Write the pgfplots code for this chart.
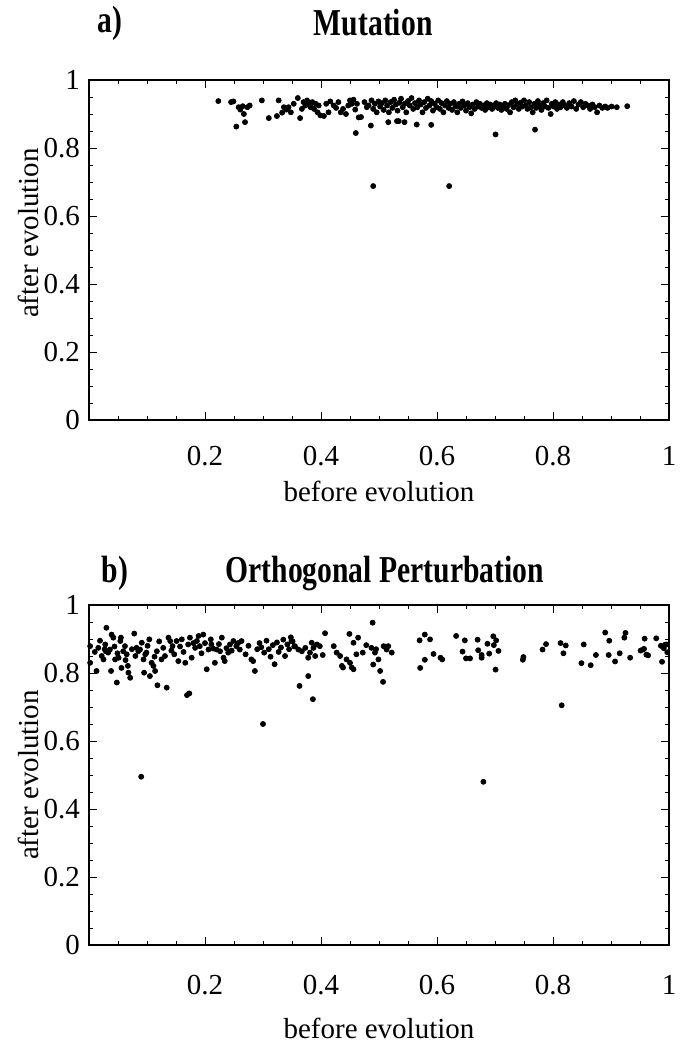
\documentclass[border=0pt]{standalone}
\usepackage{fontspec}
\setmainfont{Liberation Serif}
\usepackage{pgfplots}
\pgfplotsset{compat=1.18}

\pgfplotsset{
  panel/.style={
    scale only axis, width=290pt, height=170pt,
    xmin=0, xmax=1, ymin=0, ymax=1, clip=false,
    xtick={0,0.2,0.4,0.6,0.8,1}, xticklabels={,0.2,0.4,0.6,0.8,1},
    ytick={0,0.2,0.4,0.6,0.8,1}, yticklabels={0,0.2,0.4,0.6,0.8,1},
    minor tick num=3,
    tick align=inside, tickpos=both,
    major tick length=4pt, minor tick length=2pt,
    axis line style={line width=0.8pt},
    every tick/.style={black, line width=0.5pt},
    tick label style={font=\fontsize{14.5}{14.5}\selectfont},
    xticklabel style={yshift=-9.5pt},
    yticklabel style={xshift=-1pt},
    every axis x label/.style={at={(axis description cs:0.5,-0.21)}, anchor=center,
      font=\fontsize{14.5}{14.5}\selectfont},
    every axis y label/.style={at={(axis description cs:-0.105,0.5)}, rotate=90, anchor=center,
      font=\fontsize{14.5}{14.5}\selectfont},
    xlabel={before evolution}, ylabel={after evolution},
  },
  dots/.style={only marks, mark=*, mark size=1.25pt, black},
}
\tikzset{ttl/.style={font=\bfseries\fontsize{19}{19}\selectfont, xscale=0.78}}

\begin{document}
\begin{tikzpicture}
\path[use as bounding box] (0,0) rectangle (341.5pt,-525.5pt);

% a) Mutation
\begin{axis}[panel, at={(44.5pt,-40pt)}, anchor=north west,
  every axis y label/.append style={at={(axis description cs:-0.105,0.55)}}]
\addplot[dots] coordinates {
(0.223,0.938) (0.245,0.935) (0.249,0.937) (0.258,0.920) (0.261,0.913) (0.265,0.923)
(0.267,0.900) (0.269,0.876) (0.254,0.863) (0.273,0.920) (0.277,0.925) (0.298,0.940)
(0.310,0.888) (0.324,0.894) (0.327,0.940) (0.333,0.904) (0.336,0.920) (0.340,0.913)
(0.344,0.920) (0.348,0.905) (0.353,0.930) (0.360,0.947) (0.364,0.888) (0.367,0.915)
(0.370,0.935) (0.373,0.925) (0.376,0.940) (0.379,0.930) (0.382,0.920) (0.385,0.935)
(0.388,0.915) (0.391,0.930) (0.394,0.905) (0.396,0.925) (0.399,0.896) (0.405,0.894)
(0.409,0.930) (0.413,0.905) (0.416,0.937) (0.422,0.925) (0.426,0.918) (0.430,0.935)
(0.434,0.905) (0.438,0.915) (0.443,0.900) (0.447,0.925) (0.450,0.940) (0.453,0.930)
(0.456,0.942) (0.459,0.913) (0.462,0.930) (0.465,0.890) (0.460,0.844) (0.469,0.891)
(0.475,0.935) (0.479,0.920)
(0.482,0.925) (0.486,0.866) (0.487,0.940) (0.490,0.915) (0.493,0.930) (0.496,0.905)
(0.499,0.937) (0.502,0.922) (0.505,0.932) (0.508,0.912) (0.511,0.940) (0.514,0.925)
(0.516,0.876) (0.517,0.905) (0.520,0.935) (0.523,0.918) (0.526,0.942) (0.529,0.928)
(0.531,0.879) (0.534,0.879) (0.532,0.910) (0.535,0.933) (0.538,0.945) (0.541,0.920)
(0.544,0.876) (0.544,0.930) (0.547,0.905) (0.550,0.938) (0.553,0.925) (0.556,0.947)
(0.559,0.915) (0.562,0.932) (0.565,0.869) (0.566,0.920) (0.569,0.940) (0.572,0.928)
(0.575,0.905) (0.578,0.935) (0.581,0.918) (0.584,0.945) (0.587,0.925) (0.590,0.868)
(0.590,0.938) (0.593,0.910) (0.596,0.930) (0.599,0.920) (0.602,0.940) (0.605,0.915)
(0.608,0.932) (0.611,0.905) (0.614,0.925) (0.617,0.938) (0.620,0.918) (0.623,0.930)
(0.626,0.912) (0.629,0.935) (0.632,0.922) (0.635,0.905) (0.638,0.930) (0.641,0.918)
(0.644,0.937) (0.647,0.925) (0.650,0.910) (0.653,0.932) (0.656,0.920) (0.659,0.902)
(0.662,0.928) (0.665,0.915) (0.668,0.935) (0.671,0.922) (0.674,0.930) (0.677,0.918)
(0.680,0.925) (0.683,0.912) (0.686,0.932) (0.689,0.920) (0.692,0.928) (0.695,0.915)
(0.698,0.925) (0.701,0.840) (0.702,0.932) (0.705,0.918) (0.708,0.928) (0.711,0.912)
(0.714,0.922) (0.717,0.930) (0.720,0.915) (0.723,0.926) (0.726,0.905) (0.729,0.935)
(0.732,0.920) (0.735,0.940) (0.738,0.928) (0.741,0.915) (0.744,0.933) (0.747,0.922)
(0.750,0.940)
(0.753,0.925) (0.756,0.915) (0.759,0.935) (0.762,0.920) (0.765,0.905) (0.768,0.930)
(0.769,0.854) (0.771,0.918) (0.774,0.938) (0.777,0.925) (0.780,0.912) (0.783,0.932)
(0.786,0.922) (0.789,0.940) (0.792,0.918) (0.796,0.900) (0.798,0.930) (0.801,0.922)
(0.804,0.935) (0.807,0.915) (0.810,0.928) (0.813,0.920) (0.817,0.935) (0.820,0.925)
(0.824,0.918) (0.828,0.932) (0.832,0.922) (0.836,0.938) (0.840,0.915) (0.844,0.928)
(0.848,0.935) (0.852,0.920) (0.856,0.930) (0.860,0.925) (0.864,0.915) (0.868,0.928)
(0.872,0.920) (0.876,0.905) (0.880,0.925) (0.885,0.918) (0.890,0.922) (0.894,0.918)
(0.901,0.922) (0.910,0.920) (0.928,0.923)
(0.490,0.688) (0.621,0.688)
};
\node[ttl] at (axis description cs:0.036,1.168) {a)};
\node[ttl] at (axis description cs:0.49,1.168) {Mutation};
\end{axis}

% b) Orthogonal Perturbation
\begin{axis}[panel, at={(44.5pt,-302.5pt)}, anchor=north west,
  xticklabel style={yshift=-2pt},
  every axis x label/.append style={at={(axis description cs:0.5,-0.245)}}]
\addplot[dots] coordinates {
(0.002,0.879) (0.002,0.830) (0.013,0.806) (0.016,0.874) (0.022,0.850) (0.025,0.840)
(0.028,0.884) (0.030,0.933) (0.029,0.864) (0.033,0.860) (0.036,0.869) (0.039,0.913)
(0.042,0.904) (0.038,0.806) (0.048,0.772) (0.045,0.840) (0.051,0.845) (0.054,0.894)
(0.055,0.904) (0.056,0.815) (0.059,0.864) (0.062,0.879) (0.065,0.855) (0.068,0.801)
(0.067,0.821) (0.071,0.786) (0.078,0.916) (0.082,0.874) (0.085,0.864) (0.088,0.869)
(0.091,0.889) (0.094,0.840) (0.097,0.855) (0.095,0.801) (0.099,0.860) (0.104,0.899)
(0.105,0.791) (0.108,0.830) (0.111,0.821) (0.114,0.806) (0.117,0.864) (0.118,0.764)
(0.125,0.840) (0.128,0.874) (0.131,0.850) (0.134,0.757) (0.137,0.904) (0.140,0.894)
(0.144,0.879) (0.147,0.855) (0.151,0.894) (0.154,0.835) (0.160,0.899) (0.166,0.830)
(0.169,0.735) (0.173,0.740) (0.171,0.884) (0.174,0.904) (0.177,0.845) (0.183,0.874)
(0.186,0.894) (0.189,0.909) (0.191,0.879) (0.197,0.913) (0.203,0.811) (0.206,0.869)
(0.210,0.899) (0.211,0.884) (0.217,0.830) (0.220,0.869) (0.226,0.864) (0.229,0.904)
(0.232,0.845) (0.234,0.835) (0.240,0.860) (0.243,0.884) (0.249,0.894) (0.254,0.879)
(0.260,0.869) (0.263,0.894)
(0.010,0.862) (0.019,0.895) (0.027,0.870) (0.044,0.878) (0.049,0.858) (0.063,0.838)
(0.074,0.870) (0.080,0.850) (0.101,0.880) (0.113,0.848) (0.121,0.893) (0.142,0.866)
(0.157,0.878) (0.163,0.862) (0.180,0.888) (0.194,0.858) (0.200,0.888) (0.214,0.872)
(0.224,0.885) (0.237,0.873) (0.246,0.866) (0.257,0.888)
(0.270,0.855) (0.275,0.880) (0.280,0.840) (0.283,0.835) (0.286,0.806) (0.290,0.870)
(0.294,0.888) (0.297,0.876) (0.300,0.650) (0.302,0.860) (0.306,0.895) (0.310,0.870)
(0.313,0.848) (0.317,0.882) (0.320,0.826) (0.324,0.890) (0.327,0.862) (0.331,0.875)
(0.335,0.898) (0.338,0.850) (0.342,0.884) (0.345,0.870) (0.348,0.905) (0.351,0.893)
(0.354,0.878)
(0.349,0.894) (0.355,0.879) (0.361,0.869) (0.367,0.864) (0.373,0.874) (0.378,0.845)
(0.381,0.860) (0.384,0.889) (0.387,0.874) (0.390,0.850) (0.393,0.884) (0.398,0.879)
(0.403,0.853) (0.407,0.917) (0.378,0.791) (0.363,0.762) (0.386,0.723) (0.422,0.879)
(0.427,0.860) (0.433,0.850) (0.436,0.821) (0.438,0.816) (0.444,0.840) (0.449,0.915)
(0.450,0.830) (0.453,0.816) (0.456,0.889) (0.456,0.811) (0.461,0.855) (0.464,0.904)
(0.472,0.860) (0.478,0.882) (0.487,0.874) (0.489,0.948) (0.490,0.825) (0.493,0.860)
(0.495,0.870) (0.499,0.840) (0.502,0.806) (0.507,0.774) (0.508,0.879) (0.513,0.869)
(0.516,0.879) (0.522,0.860)
(0.570,0.896) (0.579,0.913) (0.588,0.899) (0.594,0.856) (0.606,0.845) (0.609,0.840)
(0.571,0.815) (0.579,0.839) (0.633,0.909) (0.648,0.896) (0.644,0.863) (0.650,0.843)
(0.657,0.843) (0.670,0.898) (0.671,0.867) (0.677,0.853) (0.677,0.845) (0.687,0.886)
(0.690,0.857) (0.697,0.908) (0.702,0.896) (0.706,0.865) (0.701,0.810) (0.698,0.882)
(0.749,0.847) (0.748,0.839) (0.782,0.869) (0.788,0.885) (0.813,0.888) (0.822,0.881)
(0.818,0.858) (0.849,0.829) (0.853,0.884) (0.865,0.823) (0.874,0.853) (0.890,0.919)
(0.897,0.895) (0.896,0.853) (0.907,0.834) (0.915,0.858) (0.923,0.904) (0.925,0.918)
(0.933,0.845) (0.951,0.866) (0.955,0.869) (0.958,0.901) (0.957,0.871) (0.961,0.854)
(0.964,0.852) (0.978,0.902) (0.986,0.880) (0.988,0.833) (0.991,0.873) (0.993,0.883)
(0.996,0.884) (0.997,0.861)
(0.090,0.495) (0.680,0.480) (0.815,0.705)
};
\node[ttl] at (axis description cs:0.045,1.094) {b)};
\node[ttl] at (axis description cs:0.51,1.094) {Orthogonal Perturbation};
\end{axis}
\end{tikzpicture}
\end{document}
